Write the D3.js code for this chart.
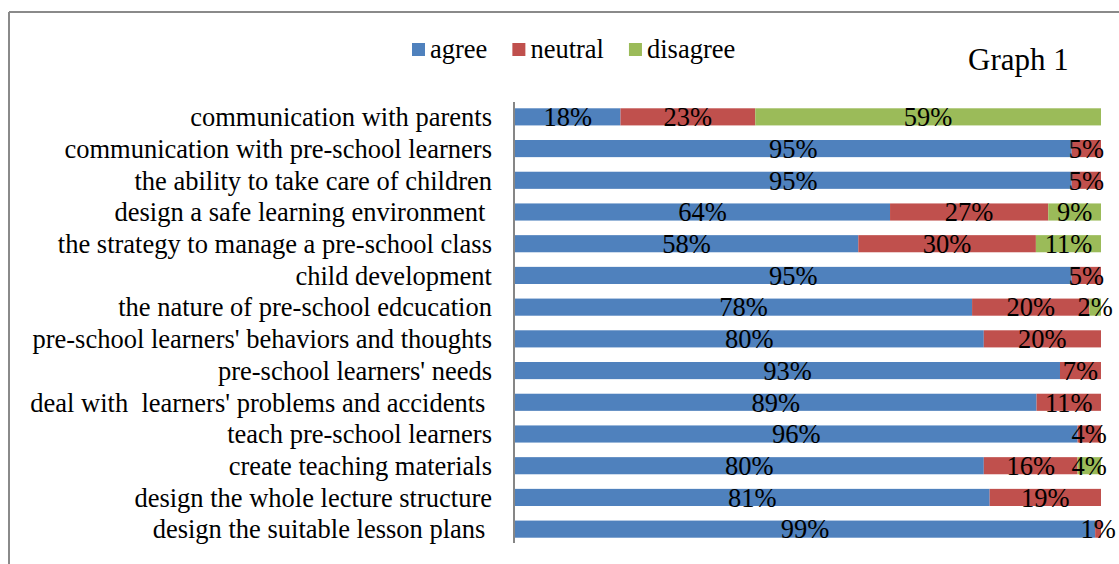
<!DOCTYPE html>
<html>
<head>
<meta charset="utf-8">
<script src="https://cdn.jsdelivr.net/npm/d3@7"></script>
<style>
  html, body { margin: 0; padding: 0; background: #fff; }
  svg { display: block; }
  text { font-family: "Liberation Serif", "Times New Roman", serif; fill: #000; white-space: pre; }
</style>
</head>
<body>
<svg id="chart" width="1119" height="564"></svg>
<script>
const categories = [
  "communication with parents",
  "communication with pre-school learners",
  "the ability to take care of children",
  "design a safe learning environment ",
  "the strategy to manage a pre-school class",
  "child development",
  "the nature of pre-school edcucation",
  "pre-school learners' behaviors and thoughts",
  "pre-school learners' needs",
  "deal with  learners' problems and accidents ",
  "teach pre-school learners",
  "create teaching materials",
  "design the whole lecture structure",
  "design the suitable lesson plans "
];
const agree    = [18, 95, 95, 64, 58, 95, 78, 80, 93, 89, 96, 80, 81, 99];
const neutral  = [23,  5,  5, 27, 30,  5, 20, 20,  7, 11,  4, 16, 19,  1];
const disagree = [59,  0,  0,  9, 11,  0,  2,  0,  0,  0,  0,  4,  0,  0];
const seriesNames = ["agree", "neutral", "disagree"];
const seriesColors = ["#4F81BD", "#C0504D", "#9BBB59"];
const chartTitle = "Graph 1";

const rows = categories.map((c, i) => ({
  category: c, agree: agree[i], neutral: neutral[i], disagree: disagree[i]
}));

const FS = "26.5px";
const svg = d3.select("#chart");

// frame
svg.append("line").attr("x1", 9).attr("x2", 9).attr("y1", 12).attr("y2", 564)
  .attr("stroke", "#8a8a8a").attr("stroke-width", 2);
svg.append("line").attr("x1", 9).attr("x2", 1119).attr("y1", 12).attr("y2", 12)
  .attr("stroke", "#8a8a8a").attr("stroke-width", 2);

const x = d3.scaleLinear().domain([0, 1]).range([515, 1101]);
const y = d3.scaleBand().domain(categories).range([101, 545])
  .paddingInner(0.46).paddingOuter(0.23);
const color = d3.scaleOrdinal().domain(seriesNames).range(seriesColors);

const stack = d3.stack().keys(seriesNames).offset(d3.stackOffsetExpand);
const stacked = stack(rows);

const fmt = v => Math.round(v) + "%";

const layers = svg.append("g").selectAll("g").data(stacked).join("g")
  .attr("fill", d => color(d.key));

layers.selectAll("rect").data(d => d.map(p => ({p, key: d.key}))).join("rect")
  .attr("x", d => x(d.p[0]))
  .attr("y", d => y(d.p.data.category))
  .attr("width", d => Math.max(0, x(d.p[1]) - x(d.p[0])))
  .attr("height", y.bandwidth());

// data labels
const labelG = svg.append("g");
stacked.forEach(layer => {
  layer.forEach(p => {
    const v = p.data[layer.key];
    if (v <= 0) return;
    labelG.append("text")
      .attr("x", (x(p[0]) + x(p[1])) / 2)
      .attr("y", y(p.data.category) + y.bandwidth() / 2)
      .attr("dy", "0.35em")
      .attr("text-anchor", "middle")
      .style("font-size", FS)
      .text(fmt(v));
  });
});

// y axis
const yAxis = d3.axisLeft(y).tickSize(0).tickPadding(22);
const ag = svg.append("g").attr("transform", "translate(514,0)").call(yAxis);
ag.attr("font-family", null).attr("font-size", null);
ag.select(".domain").remove();
ag.selectAll("text").style("font-size", FS)
  .attr("fill", "#000").attr("dy", "0.35em");
svg.append("line").attr("x1", 514).attr("x2", 514).attr("y1", 102).attr("y2", 543)
  .attr("stroke", "#868686").attr("stroke-width", 2);

// legend
const legend = svg.append("g");
let lx = 412;
seriesNames.forEach((name, i) => {
  legend.append("rect").attr("x", lx).attr("y", 43).attr("width", 13).attr("height", 13)
    .attr("fill", seriesColors[i]);
  const t = legend.append("text").attr("x", lx + 18).attr("y", 58)
    .style("font-size", FS).text(name);
  lx = lx + 18 + t.node().getComputedTextLength() + 25;
});

// title
svg.append("text").attr("x", 968).attr("y", 70).style("font-size", "31px").text(chartTitle);
</script>
</body>
</html>
